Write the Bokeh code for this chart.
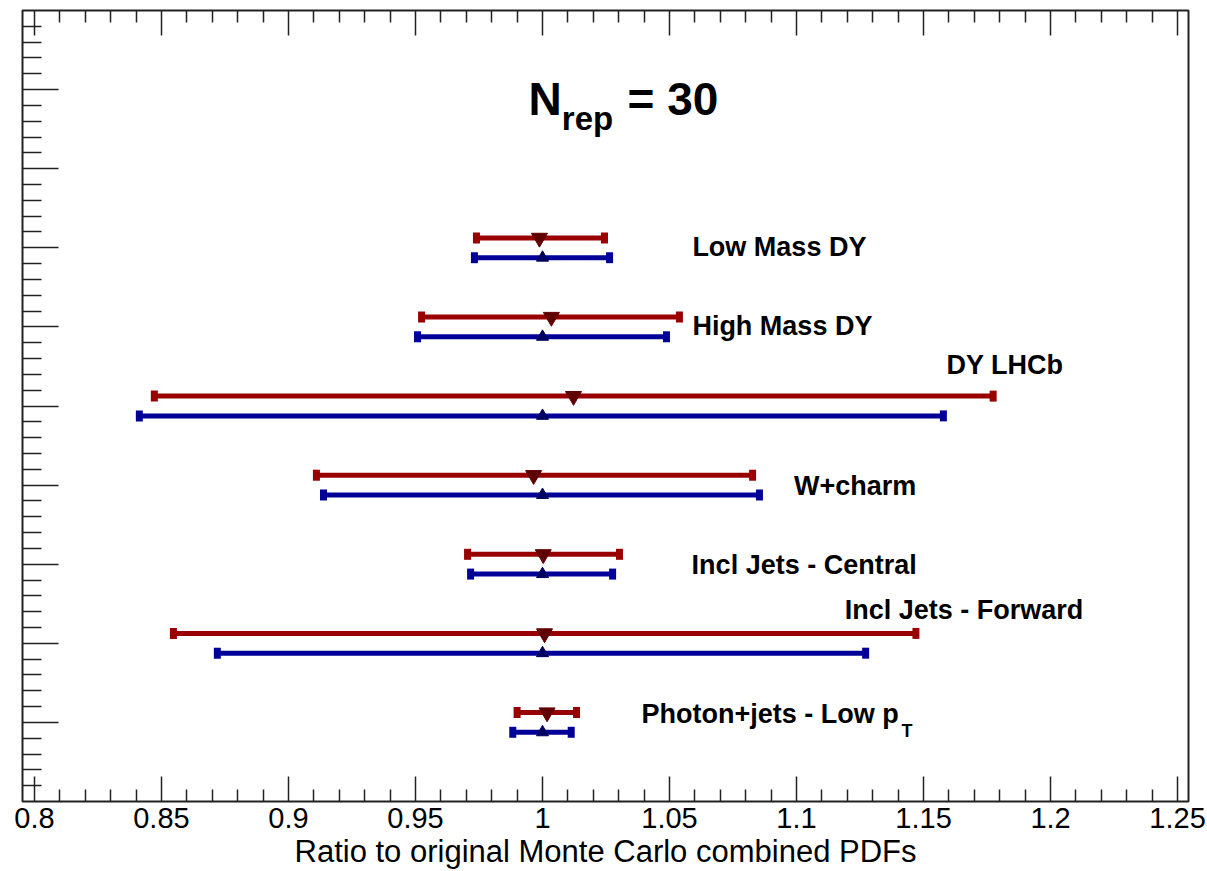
from bokeh.plotting import figure
from bokeh.models import FixedTicker, LinearAxis, Range1d, ColumnDataSource, Label, CustomLabelingPolicy
from bokeh.embed import file_html
from bokeh.resources import INLINE
from bokeh.core.properties import value

# ---------------- data ----------------
categories = ["Low Mass DY", "High Mass DY", "DY LHCb", "W+charm",
              "Incl Jets - Central", "Incl Jets - Forward", "Photon+jets - Low p"]

# reduced ensemble (red, triangle down)
red_center = [0.9988, 1.0035, 1.0122, 0.9965, 1.0003, 1.0008, 1.0018]
red_low = [0.9740, 0.9524, 0.8472, 0.9110, 0.9705, 0.8547, 0.9900]
red_high = [1.0244, 1.0539, 1.1774, 1.0827, 1.0303, 1.1470, 1.0134]

# original ensemble (blue, triangle up)
blue_center = [1.0000, 1.0000, 1.0000, 1.0000, 1.0000, 1.0000, 1.0000]
blue_low = [0.9732, 0.9508, 0.8413, 0.9138, 0.9717, 0.8720, 0.9883]
blue_high = [1.0264, 1.0488, 1.1578, 1.0854, 1.0276, 1.1272, 1.0113]

x_ticks = [0.8, 0.85, 0.9, 0.95, 1.0, 1.05, 1.1, 1.15, 1.2, 1.25]
x_tick_labels = ["0.8", "0.85", "0.9", "0.95", "1", "1.05", "1.1", "1.15", "1.2", "1.25"]
x_minor = [round(0.8 + 0.01 * i, 2) for i in range(46) if i % 5 != 0]
y_ticks = [1, 2, 3, 4, 5, 6, 7, 8, 9]
y_minor = [round(0.2 * i, 1) for i in range(1, 50) if i % 5 != 0]

x_title = "Ratio to original Monte Carlo combined PDFs"

# label layout (data coordinates of text start / baseline)
label_x = [1.059, 1.059, 1.159, 1.099, 1.0587, 1.119, 1.039]
label_y = [7.006, 6.006, 5.516, 3.986, 2.996, 2.426, 1.106]

# ---------------- layout ----------------
n = len(categories)
y_base = [n - i for i in range(n)]
OFF = 0.125
y_red = [y + OFF for y in y_base]
y_blue = [y - OFF for y in y_base]

RED = "#990000"
RED_M = "#600000"
BLUE = "#000099"
BLUE_M = "#000060"
FONT = "Liberation Sans"

p = figure(width=1207, height=871,
           x_range=Range1d(0.7953, 1.2543), y_range=Range1d(0, 10),
           x_axis_type=None, y_axis_type=None,
           output_backend="svg", toolbar_location=None,
           min_border_left=22, min_border_right=19,
           min_border_top=10, min_border_bottom=68)
p.background_fill_color = "white"
p.border_fill_color = "white"
p.outline_line_color = "#222222"
p.outline_line_width = 2
p.grid.visible = False

xt = FixedTicker(ticks=x_ticks, minor_ticks=x_minor)
yt = FixedTicker(ticks=y_ticks, minor_ticks=y_minor)

hide_all = CustomLabelingPolicy(code="""
    const n = indices.size
    for (let i = 0; i < n; i++) {
        indices.unset(i)
    }
    return indices
""")


def style_ticks(ax, major, minor):
    ax.major_tick_in = major
    ax.major_tick_out = 0
    ax.minor_tick_in = minor
    ax.minor_tick_out = 0
    ax.axis_line_color = None
    ax.major_tick_line_color = "#222222"
    ax.minor_tick_line_color = "#222222"
    ax.major_tick_line_width = 1.5
    ax.minor_tick_line_width = 1.5


xb = LinearAxis(ticker=xt, axis_label=x_title)
xb.major_label_overrides = {t: l for t, l in zip(x_ticks, x_tick_labels)}
xb.major_label_text_font = FONT
xb.major_label_text_font_size = "29px"
xb.major_label_text_color = "black"
xb.major_label_standoff = 6
xb.axis_label_text_font = FONT
xb.axis_label_text_font_size = "31px"
xb.axis_label_text_font_style = "normal"
xb.axis_label_text_color = "black"
xb.axis_label_standoff = 3
style_ticks(xb, 25, 12)
p.add_layout(xb, "below")

xa = LinearAxis(ticker=xt)
xa.major_label_text_font_size = "0px"
xa.major_label_standoff = 0
xa.major_label_policy = hide_all
style_ticks(xa, 25, 12)
p.add_layout(xa, "above")

yl = LinearAxis(ticker=yt)
yl.major_label_text_font_size = "0px"
yl.major_label_standoff = 0
yl.major_label_policy = hide_all
style_ticks(yl, 36, 19)
p.add_layout(yl, "left")

# ---------------- error bars ----------------
src_red = ColumnDataSource(dict(c=red_center, lo=red_low, hi=red_high, y=y_red))
src_blue = ColumnDataSource(dict(c=blue_center, lo=blue_low, hi=blue_high, y=y_blue))

for src, col, mcol, marker, msize in [(src_red, RED, RED_M, "inverted_triangle", 16),
                                       (src_blue, BLUE, BLUE_M, "triangle", 12)]:
    p.segment(x0="lo", y0="y", x1="hi", y1="y", source=src, line_color=col, line_width=5)
    p.rect(x="lo", y="y", width=7, height=11, width_units="screen", height_units="screen",
           source=src, fill_color=col, line_color=None)
    p.rect(x="hi", y="y", width=7, height=11, width_units="screen", height_units="screen",
           source=src, fill_color=col, line_color=None)
    p.scatter(x="c", y="y", marker=marker, size=msize, source=src,
              fill_color=mcol, line_color=mcol)

# ---------------- labels ----------------
lab_src = ColumnDataSource(dict(x=label_x, y=label_y, t=categories))
p.text(x="x", y="y", text="t", source=lab_src, text_font=value(FONT),
       text_font_style="bold", text_font_size="27px", text_color="black",
       text_baseline="alphabetic", text_align="left")
# subscript T of p_T
p.add_layout(Label(x=1.1413, y=0.89, text="T", text_font=FONT, text_font_style="bold",
                   text_font_size="18px", text_color="black", text_baseline="alphabetic"))

# title N_rep = 30
p.add_layout(Label(x=0.9945, y=8.88, text="N", text_font=FONT, text_font_style="bold",
                   text_font_size="46px", text_color="black", text_baseline="alphabetic"))
p.add_layout(Label(x=1.0076, y=8.64, text="rep", text_font=FONT, text_font_style="bold",
                   text_font_size="33px", text_color="black", text_baseline="alphabetic"))
p.add_layout(Label(x=1.0335, y=8.88, text="= 30", text_font=FONT, text_font_style="bold",
                   text_font_size="46px", text_color="black", text_baseline="alphabetic"))

open("out.html", "w").write(file_html(p, INLINE))
